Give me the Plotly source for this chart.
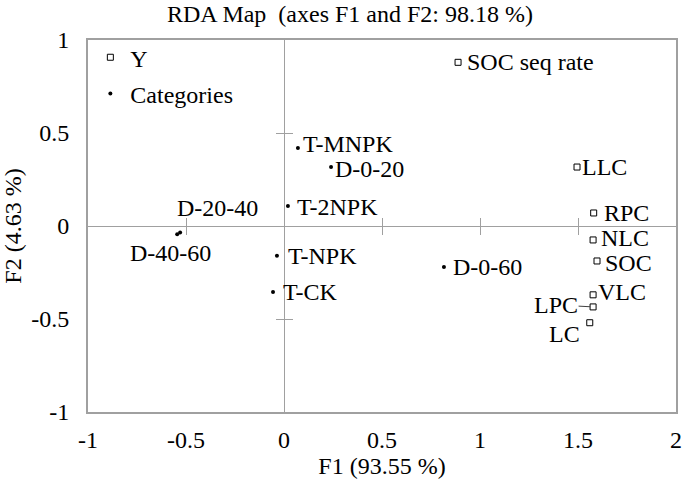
import plotly.graph_objects as go

# ---- data ----
cat_names = ["T-MNPK", "D-0-20", "T-2NPK", "D-20-40", "D-40-60", "T-NPK", "T-CK", "D-0-60"]
cat_f1 = [0.071, 0.240, 0.020, -0.530, -0.545, -0.036, -0.056, 0.816]
cat_f2 = [0.420, 0.317, 0.108, -0.035, -0.045, -0.160, -0.355, -0.220]

y_names = ["SOC seq rate", "LLC", "RPC", "NLC", "SOC", "VLC", "LPC", "LC"]
y_f1 = [0.888, 1.495, 1.580, 1.577, 1.597, 1.577, 1.577, 1.560]
y_f2 = [0.880, 0.317, 0.070, -0.075, -0.188, -0.370, -0.435, -0.520]

x_ticks = [-1, -0.5, 0, 0.5, 1, 1.5, 2]
y_ticks = [-1, -0.5, 0, 0.5, 1]
x_center_ticks = [-0.5, 0.5, 1, 1.5]
y_center_ticks = [-0.5, 0.5]

title_text = "RDA Map \u00a0(axes F1 and F2: 98.18 %)"
x_title = "F1 (93.55 %)"
y_title = "F2 (4.63 %)"

# ---- style ----
FONT = "Liberation Serif, Times New Roman, serif"
FS = 24
GRAY = "#a0a0a0"

# label placement: name -> (xanchor, xshift, yshift)
label_place = {
    "T-MNPK": ("left", 4, 4),
    "D-0-20": ("left", 3, -2),
    "T-2NPK": ("left", 8, -1),
    "D-20-40": ("left", -4, 25),
    "D-40-60": ("center", -7, -19),
    "T-NPK": ("left", 10, 0),
    "T-CK": ("left", 9, 0),
    "D-0-60": ("left", 8, 0),
    "SOC seq rate": ("left", 8, 0),
    "LLC": ("left", 4, 0),
    "RPC": ("left", 9, 0),
    "NLC": ("left", 7, 2),
    "SOC": ("left", 7, -2),
    "VLC": ("left", 4, 3),
    "LC": ("right", -9, -11),
}

fig = go.Figure()

fig.add_trace(go.Scatter(
    x=y_f1, y=y_f2, mode="markers", name="Y",
    marker=dict(symbol="square-open", size=6, color="black", line=dict(width=1, color="black")),
    xaxis="x3", yaxis="y3", legendgroup="g1", hoverinfo="text", text=y_names,
))
fig.add_trace(go.Scatter(
    x=cat_f1, y=cat_f2, mode="markers", name="Categories",
    marker=dict(symbol="circle", size=4, color="black"),
    xaxis="x2", yaxis="y2", legendgroup="g2", hoverinfo="text", text=cat_names,
))

annotations = []
for names, xs, ys in ((cat_names, cat_f1, cat_f2), (y_names, y_f1, y_f2)):
    for n, xv, yv in zip(names, xs, ys):
        if n == "LPC":
            annotations.append(dict(
                x=xv, y=yv, xref="x", yref="y", text=n, showarrow=True,
                arrowhead=0, arrowwidth=1, arrowcolor="#404040", ax=-37, ay=-2,
                standoff=3, borderpad=0, font=dict(family=FONT, size=FS, color="black"),
            ))
            continue
        xa, xs_, ys_ = label_place[n]
        annotations.append(dict(
            x=xv, y=yv, xref="x", yref="y", text=n, showarrow=False,
            xanchor=xa, yanchor="middle", xshift=xs_, yshift=ys_, borderpad=0,
            font=dict(family=FONT, size=FS, color="black"),
        ))

axis_common = dict(showgrid=False, zeroline=False)

fig.update_layout(
    width=685, height=486,
    margin=dict(l=88, r=9, t=40, b=74, autoexpand=False),
    paper_bgcolor="white", plot_bgcolor="white",
    font=dict(family=FONT, size=FS, color="black"),
    title=dict(text=title_text, x=0.511, xanchor="center", y=0.971, yanchor="middle",
               font=dict(family=FONT, size=FS, color="black")),
    xaxis=dict(range=[-1, 2], autorange=False, tickvals=x_ticks, automargin=False,
               ticktext=[str(v) for v in x_ticks], ticks="", showline=True, mirror=True,
               linecolor=GRAY, linewidth=2, ticklabelstandoff=5,
               title=dict(text=x_title, standoff=0, font=dict(size=FS)), **axis_common),
    yaxis=dict(range=[-1, 1], autorange=False, tickvals=y_ticks, automargin=False,
               ticktext=[str(v) for v in y_ticks], ticks="", showline=True, mirror=True,
               linecolor=GRAY, linewidth=2, ticklabelstandoff=12,
               title=dict(text=y_title, standoff=7, font=dict(size=FS)), **axis_common),
    xaxis2=dict(range=[-1, 2], autorange=False, overlaying="x", anchor="free", position=0.5,
                showline=True, linecolor=GRAY, linewidth=1, ticks="outside", ticklen=8,
                tickcolor=GRAY, tickwidth=1, tickvals=x_center_ticks, showticklabels=False,
                **axis_common),
    xaxis3=dict(range=[-1, 2], autorange=False, overlaying="x", anchor="free", position=0.5,
                showline=False, ticks="inside", ticklen=8,
                tickcolor=GRAY, tickwidth=1, tickvals=x_center_ticks, showticklabels=False,
                **axis_common),
    yaxis2=dict(range=[-1, 1], autorange=False, overlaying="y", anchor="free", position=1/3,
                showline=True, linecolor=GRAY, linewidth=1, ticks="outside", ticklen=8,
                tickcolor=GRAY, tickwidth=1, tickvals=y_center_ticks, showticklabels=False,
                **axis_common),
    yaxis3=dict(range=[-1, 1], autorange=False, overlaying="y", anchor="free", position=1/3,
                showline=False, ticks="inside", ticklen=8,
                tickcolor=GRAY, tickwidth=1, tickvals=y_center_ticks, showticklabels=False,
                **axis_common),
    showlegend=True,
    legend=dict(x=0.004, y=1.013, xanchor="left", yanchor="top", bgcolor="rgba(0,0,0,0)",
                font=dict(family=FONT, size=FS, color="black"), tracegroupgap=2,
                itemwidth=30),
    annotations=annotations,
)

fig.write_html("out.html", config={"displayModeBar": False},
               post_script="document.body.style.margin='0px';")
